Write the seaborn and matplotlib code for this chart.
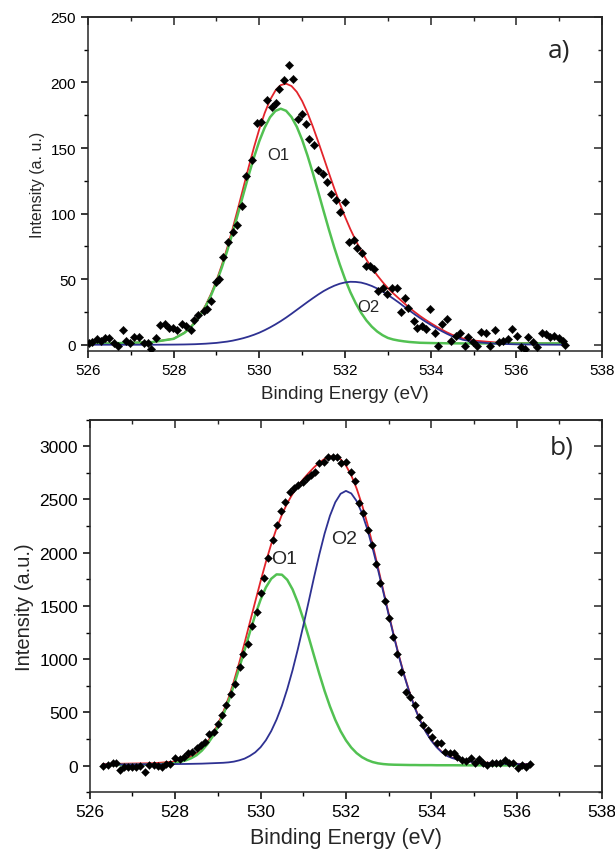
import matplotlib
matplotlib.use("Agg")
import matplotlib.pyplot as plt
import seaborn as sns
import pandas as pd
from matplotlib.ticker import MultipleLocator

# ---- panel a) measured points ----
energy_a = [526.02, 526.1, 526.2, 526.3, 526.4, 526.5, 526.6, 526.69, 526.81, 526.89,
            526.99, 527.08, 527.19, 527.31, 527.4, 527.47, 527.6, 527.69, 527.79, 527.9,
            527.98, 528.09, 528.2, 528.29, 528.4, 528.48, 528.58, 528.7, 528.79, 528.88,
            528.98, 529.07, 529.16, 529.28, 529.39, 529.49, 529.59, 529.68, 529.83, 529.94,
            530.04, 530.18, 530.29, 530.4, 530.47, 530.58, 530.69, 530.79, 530.9, 530.99,
            531.08, 531.17, 531.27, 531.38, 531.49, 531.59, 531.68, 531.79, 531.89, 532.0,
            532.09, 532.2, 532.29, 532.39, 532.48, 532.59, 532.68, 532.78, 532.89, 532.99,
            533.1, 533.21, 533.3, 533.4, 533.48, 533.6, 533.69, 533.8, 533.89, 533.99,
            534.09, 534.18, 534.27, 534.38, 534.47, 534.58, 534.68, 534.79, 534.88, 534.98,
            535.09, 535.18, 535.29, 535.39, 535.5, 535.6, 535.69, 535.8, 535.89, 536.01,
            536.1, 536.19, 536.28, 536.39, 536.49, 536.6, 536.7, 536.79, 536.88, 536.99,
            537.08, 537.13]
counts_a = [1, 2, 4, 3, 5, 5, 1, -1, 11, 3,
            1, 6, 6, 1, 1, -3, 5, 15, 16, 13,
            13, 11, 16, 14, 11, 19, 23, 26, 27, 33,
            48, 50, 67, 78, 86, 91, 106, 129, 141, 169,
            170, 187, 181, 184, 195, 202, 213, 203, 172, 176,
            168, 157, 152, 133, 130, 124, 115, 110, 101, 109,
            78, 80, 74, 70, 60, 60, 58, 41, 43, 39,
            43, 43, 25, 36, 28, 18, 13, 14, 12, 27,
            9, -1, 16, 20, 3, 7, 9, -1, 6, 2,
            -1, 10, 9, -1, 11, 2, 3, 4, 12, 7,
            -2, -3, 6, 2, -2, 9, 8, 6, 7, 5,
            3, 0]

# ---- panel a) fitted components ----
fit_x_a = [526.0, 526.5, 527.0, 527.5, 528.0, 528.25, 528.375,
           528.5, 528.625, 528.75, 528.875, 529.0, 529.125, 529.25, 529.375,
           529.5, 529.625, 529.75, 529.875, 530.0, 530.125, 530.25, 530.375,
           530.5, 530.625, 530.75, 530.875, 531.0, 531.125, 531.25, 531.375,
           531.5, 531.625, 531.75, 531.875, 532.0, 532.125, 532.25, 532.375,
           532.5, 532.625, 532.75, 532.875, 533.0, 533.125, 533.25, 533.375,
           533.5, 533.625, 533.75, 533.875, 534.0, 534.125, 534.25, 534.375,
           534.5, 534.75, 535.0, 535.5, 536.0, 536.5, 537.1]
o1_a = [1, 1, 1.5, 2, 4.5, 9, 12.5,
        17, 22.6, 29.5, 37.8, 47.6, 58.9, 71.5, 85.2,
        99.7, 114.5, 129.1, 142.9, 155.3, 165.6, 173.5, 178.3,
        180, 178.4, 173.7, 166.2, 156.2, 144.2, 130.8, 116.5,
        102, 87.7, 74.1, 61.5, 50.1, 40.1, 31.6, 24.4,
        18.5, 13.8, 10.1, 7.3, 5.2, 4.0, 3.2, 2.6,
        2.1, 1.8, 1.5, 1.4, 1.3, 1.2, 1.2, 1.1,
        1.1, 1, 1, 1, 1, 1, 1]
o2_a = [0, 0, 0, 0, 0.1, 0.2, 0.3,
        0.4, 0.6, 0.8, 1.1, 1.4, 1.9, 2.4, 3.1,
        4.0, 5.0, 6.2, 7.6, 9.2, 11.1, 13.2, 15.5,
        18.0, 20.7, 23.6, 26.6, 29.6, 32.6, 35.5, 38.3,
        40.9, 43.1, 45.0, 46.5, 47.5, 48.0, 47.9, 47.4,
        46.3, 44.8, 42.9, 40.6, 38.0, 35.2, 32.3, 29.2,
        26.2, 23.2, 20.4, 17.7, 15.2, 12.8, 10.5, 8.4,
        6.5, 3.8, 2.2, 0.8, 0.3, 0.1, 0]
sum_a = [1, 1, 1.5, 2, 4.6, 9.2, 12.8,
         17.4, 23.2, 30.3, 38.9, 49.0, 60.8, 73.9, 88.3,
         103.7, 119.5, 135.3, 150.5, 164.5, 176.7, 186.7, 193.8,
         198.0, 199.1, 197.3, 192.8, 185.8, 176.8, 166.3, 154.8,
         142.9, 130.8, 119.1, 108.0, 97.6, 88.1, 79.5, 71.8,
         64.8, 58.6, 53.0, 47.9, 43.2, 39.2, 35.5, 31.8,
         28.3, 25.0, 21.9, 19.1, 16.5, 14.0, 11.7, 9.5,
         7.6, 4.8, 3.2, 1.8, 1.3, 1.1, 1]

# ---- panel b) measured points ----
energy_b = [526.3, 526.42, 526.54, 526.61, 526.7, 526.79, 526.9, 527.0, 527.09, 527.18,
            527.29, 527.39, 527.51, 527.6, 527.69, 527.78, 527.89, 527.99, 528.11, 528.2,
            528.31, 528.4, 528.5, 528.61, 528.71, 528.8, 528.91, 529.0, 529.09, 529.19,
            529.31, 529.4, 529.51, 529.6, 529.7, 529.8, 529.91, 530.0, 530.09, 530.18,
            530.29, 530.39, 530.49, 530.58, 530.69, 530.78, 530.88, 530.99, 531.08, 531.17,
            531.27, 531.38, 531.48, 531.59, 531.69, 531.78, 531.89, 532.0, 532.12, 532.21,
            532.31, 532.4, 532.51, 532.6, 532.7, 532.8, 532.91, 533.0, 533.11, 533.2,
            533.29, 533.41, 533.51, 533.62, 533.71, 533.81, 533.92, 534.01, 534.13, 534.22,
            534.32, 534.43, 534.52, 534.61, 534.73, 534.82, 534.92, 535.03, 535.12, 535.22,
            535.31, 535.42, 535.51, 535.62, 535.72, 535.82, 535.91, 536.02, 536.12, 536.21,
            536.32]
counts_b = [0, 6, 22, 22, -40, -10, -10, -10, -10, -3,
            -55, 6, 6, 0, -10, 20, 20, 68, 60, 78,
            115, 130, 162, 193, 224, 302, 318, 395, 473, 566,
            675, 769, 924, 1049, 1142, 1313, 1447, 1625, 1765, 1951,
            2122, 2263, 2393, 2480, 2574, 2605, 2636, 2667, 2698, 2729,
            2760, 2838, 2854, 2900, 2900, 2900, 2838, 2854, 2760, 2673,
            2465, 2371, 2216, 2076, 1889, 1718, 1547, 1391, 1204, 1049,
            878, 691, 644, 566, 458, 380, 333, 271, 215, 215,
            131, 115, 115, 84, 53, 47, 68, 28, 60, 22,
            6, 28, 22, 22, 53, 22, 28, -25, 6, -9,
            12]

# ---- panel b) fitted components ----
fit_x_b = [526.3, 527.0, 527.5, 528.0, 528.25, 528.375,
           528.5, 528.625, 528.75, 528.875, 529.0, 529.125, 529.25, 529.375,
           529.5, 529.625, 529.75, 529.875, 530.0, 530.125, 530.25, 530.375,
           530.5, 530.625, 530.75, 530.875, 531.0, 531.125, 531.25, 531.375,
           531.5, 531.625, 531.75, 531.875, 532.0, 532.125, 532.25, 532.375,
           532.5, 532.625, 532.75, 532.875, 533.0, 533.125, 533.25, 533.375,
           533.5, 533.625, 533.75, 533.875, 534.0, 534.125, 534.25, 534.375,
           534.5, 534.75, 535.0, 535.5, 536.3]
o1_b = [5, 8, 10, 24, 50, 70,
        98, 141, 199, 272, 364, 476, 606, 754,
        916, 1085, 1254, 1415, 1558, 1674, 1755, 1796,
        1793, 1745, 1655, 1530, 1378, 1210, 1036, 864,
        702, 557, 430, 324, 238, 170, 118, 80,
        53, 34, 22, 15, 11, 9, 8, 7,
        6, 6, 5, 5, 5, 4, 4, 4,
        4, 3, 3, 3, 2]
o2_b = [10, 12, 13, 15, 16, 17,
        18, 19, 21, 23, 25, 27, 31, 38,
        50, 66, 92, 125, 173, 239, 325, 433,
        563, 719, 897, 1097, 1312, 1537, 1764, 1981,
        2179, 2346, 2473, 2553, 2580, 2556, 2485, 2372,
        2221, 2042, 1842, 1631, 1418, 1209, 1012, 832,
        671, 531, 412, 314, 235, 173, 124, 90,
        70, 45, 33, 20, 12]
sum_b = [15, 20, 23, 39, 66, 87,
         116, 160, 220, 295, 389, 503, 637, 792,
         966, 1151, 1346, 1540, 1731, 1913, 2080, 2229,
         2356, 2464, 2552, 2627, 2690, 2747, 2800, 2845,
         2881, 2903, 2903, 2877, 2818, 2726, 2603, 2452,
         2274, 2076, 1864, 1646, 1429, 1218, 1020, 839,
         677, 537, 417, 319, 240, 177, 128, 94,
         74, 48, 36, 23, 14]

RED = "#e3242b"
GREEN = "#52c152"
BLUE = "#2e3192"

sns.set_style("ticks")
plt.rcParams["font.family"] = ["Liberation Sans", "DejaVu Sans"]
plt.rcParams["axes.linewidth"] = 1.1


def draw_panel(ax, ex, ey, fx, f1, f2, fs, ylim, ymaj, ymin, tick_fs, lab_fs, ylab_fs, ylabel, msize):
    pts = pd.DataFrame({"E": ex, "I": ey})
    fits = pd.DataFrame({"E": fx, "O1": f1, "O2": f2, "sum": fs})
    sns.lineplot(data=fits, x="E", y="sum", color=RED, lw=1.3, ax=ax)
    sns.lineplot(data=fits, x="E", y="O1", color=GREEN, lw=1.8, ax=ax)
    sns.lineplot(data=fits, x="E", y="O2", color=BLUE, lw=1.3, ax=ax)
    sns.scatterplot(data=pts, x="E", y="I", marker="D", s=msize, color="black",
                    edgecolor="black", linewidth=0.3, ax=ax, zorder=5)
    ax.set_xlim(526, 538)
    ax.set_ylim(*ylim)
    ax.xaxis.set_major_locator(MultipleLocator(2))
    ax.xaxis.set_minor_locator(MultipleLocator(1))
    ax.yaxis.set_major_locator(MultipleLocator(ymaj))
    ax.yaxis.set_minor_locator(MultipleLocator(ymin))
    ax.tick_params(which="both", direction="out", colors="black", labelsize=tick_fs)
    ax.tick_params(which="major", length=5, width=1.1)
    ax.tick_params(which="minor", length=3, width=1.0)
    ax.set_xlabel("Binding Energy (eV)", fontsize=lab_fs, labelpad=6)
    ax.set_ylabel(ylabel, fontsize=ylab_fs, labelpad=4)
    # inward ticks on top and right, as in the original
    top = ax.secondary_xaxis("top")
    top.xaxis.set_major_locator(MultipleLocator(2))
    top.xaxis.set_minor_locator(MultipleLocator(1))
    top.tick_params(which="both", direction="in", labeltop=False)
    top.tick_params(which="major", length=6, width=1.1)
    top.tick_params(which="minor", length=3, width=1.0)
    right = ax.secondary_yaxis("right")
    right.yaxis.set_major_locator(MultipleLocator(ymaj))
    right.yaxis.set_minor_locator(MultipleLocator(ymin))
    right.tick_params(which="both", direction="in", labelright=False)
    right.tick_params(which="major", length=6, width=1.1)
    right.tick_params(which="minor", length=3, width=1.0)


fig = plt.figure(figsize=(6.15, 8.53), dpi=100)
ax_a = fig.add_axes([0.143, 0.587, 0.836, 0.392])
ax_b = fig.add_axes([0.146, 0.070, 0.833, 0.437])

draw_panel(ax_a, energy_a, counts_a, fit_x_a, o1_a, o2_a, sum_a,
           (-5, 250), 50, 25, 11, 13.5, 11.5, "Intensity (a. u.)", 18)
draw_panel(ax_b, energy_b, counts_b, fit_x_b, o1_b, o2_b, sum_b,
           (-250, 3250), 500, 250, 12.5, 15.5, 14.5, "Intensity (a.u.)", 16)

ax_a.text(530.44, 145, "O1", fontsize=12, ha="center", va="center")
ax_a.text(532.55, 29, "O2", fontsize=12, ha="center", va="center")
ax_a.text(537.0, 225, "a)", fontsize=19, ha="center", va="center",
          family=["Open Sans", "DejaVu Sans"])

ax_b.text(530.55, 1945, "O1", fontsize=14, ha="center", va="center")
ax_b.text(531.96, 2130, "O2", fontsize=14, ha="center", va="center")
ax_b.text(537.05, 2990, "b)", fontsize=19, ha="center", va="center",
          family=["Open Sans", "DejaVu Sans"])

fig.savefig("out.png", dpi=100)
